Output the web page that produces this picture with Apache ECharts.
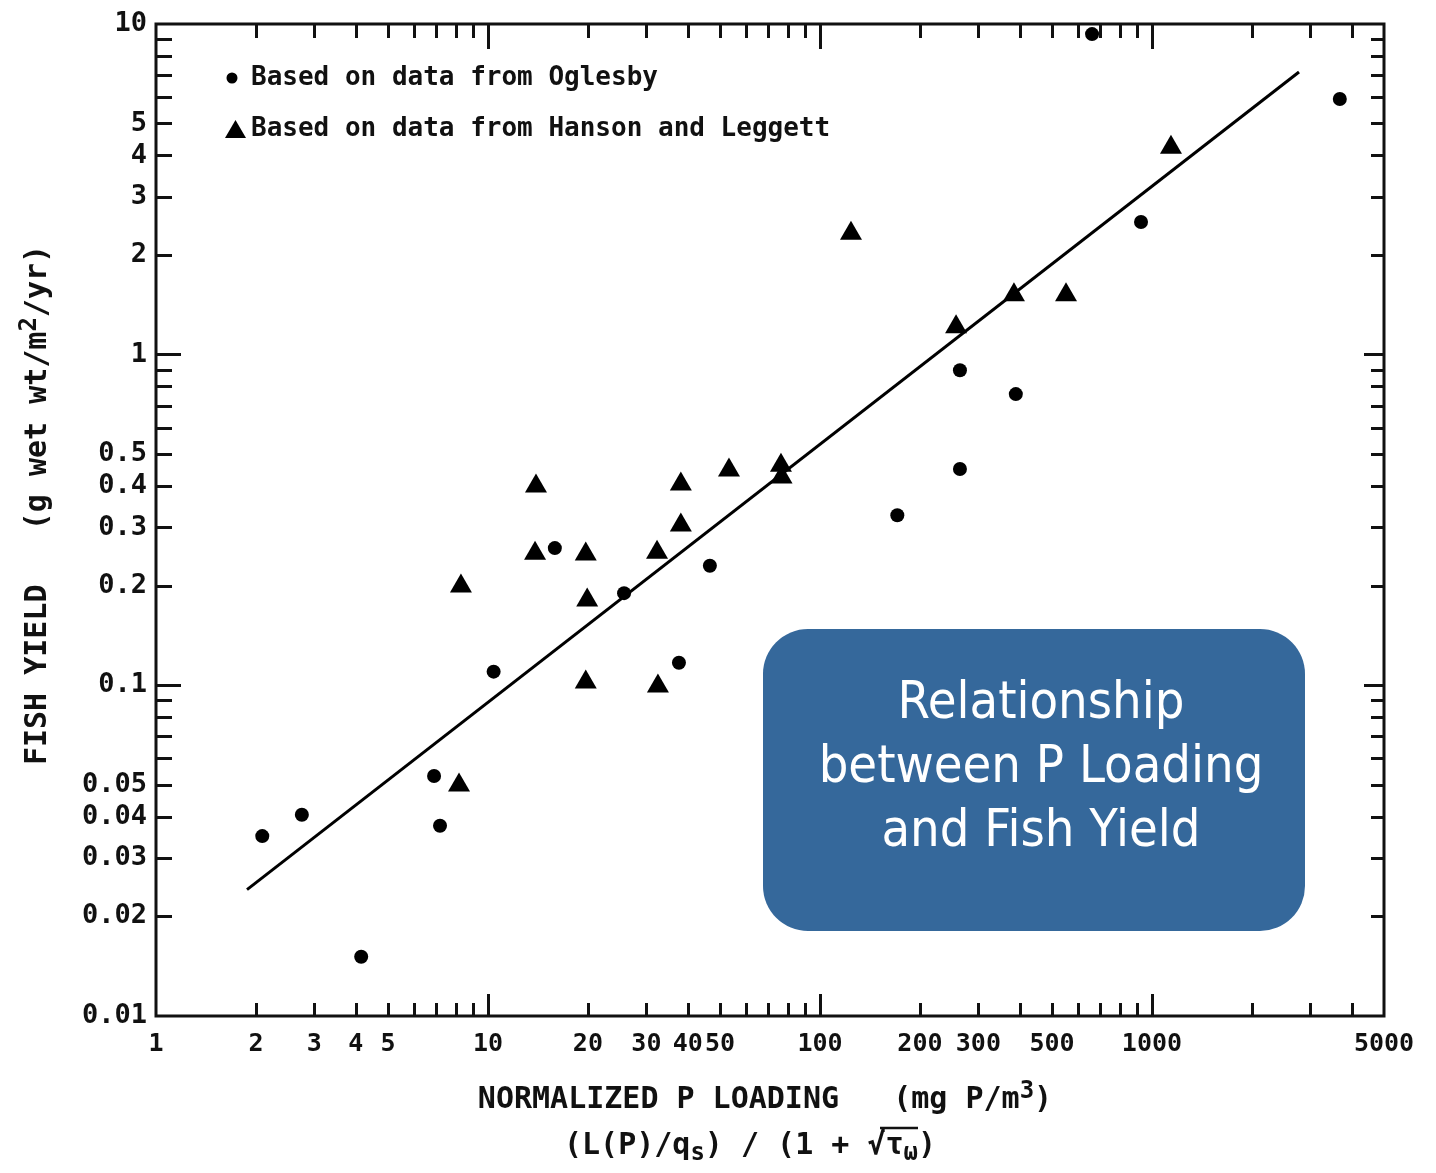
<!DOCTYPE html>
<html><head><meta charset="utf-8">
<script src="https://cdn.jsdelivr.net/npm/echarts@6/dist/echarts.min.js"></script>
<style>html,body{margin:0;padding:0;background:#fff}#c{width:1436px;height:1173px}</style>
</head><body><div id="c"></div>
<script>
// ---- data ----
const oglesbyX = [2.09, 2.75, 4.15, 6.88, 7.17, 10.4, 15.9, 25.7, 37.6, 46.6, 171, 264, 264, 389, 660, 927, 3680];
const oglesbyY = [0.035, 0.0406, 0.0151, 0.0532, 0.0376, 0.110, 0.260, 0.190, 0.117, 0.230, 0.327, 0.897, 0.451, 0.760, 9.32, 2.52, 5.93];
const hansonX = [8.29, 8.18, 13.95, 13.86, 19.7, 19.9, 19.7, 32.3, 32.5, 38.1, 38.1, 53.2, 76.3, 76.6, 124, 257, 384, 551, 1141];
const hansonY = [0.204, 0.0510, 0.409, 0.256, 0.255, 0.185, 0.1045, 0.258, 0.1016, 0.415, 0.312, 0.457, 0.473, 0.436, 2.38, 1.24, 1.55, 1.55, 4.33];
const fitX = [1.88, 2773];
const fitY = [0.0241, 7.16];
const xTickLabels = [1, 2, 3, 4, 5, 10, 20, 30, 40, 50, 100, 200, 300, 500, 1000, 5000];
const yTickLabels = [0.01, 0.02, 0.03, 0.04, 0.05, 0.1, 0.2, 0.3, 0.4, 0.5, 1, 2, 3, 4, 5, 10];
const xMinorTicks = [2, 3, 4, 5, 6, 7, 8, 9, 20, 30, 40, 50, 60, 70, 80, 90, 200, 300, 400, 500, 600, 700, 800, 900, 2000, 3000, 4000];
const xMajorTicks = [10, 100, 1000];
const yMinorTicks = [0.02, 0.03, 0.04, 0.05, 0.06, 0.07, 0.08, 0.09, 0.2, 0.3, 0.4, 0.5, 0.6, 0.7, 0.8, 0.9, 2, 3, 4, 5, 6, 7, 8, 9];
const yMajorTicks = [0.1, 1];
const seriesNames = ['Based on data from Oglesby', 'Based on data from Hanson and Leggett'];
const boxText = 'Relationship\nbetween P Loading\nand Fish Yield';

// ---- helpers ----
function hasFont(name) {
  const c = document.createElement('canvas').getContext('2d');
  const s = '0123456789abcdefg';
  c.font = '40px monospace'; const a = c.measureText(s).width;
  c.font = '40px "' + name + '", monospace'; const b = c.measureText(s).width;
  return Math.abs(a - b) > 0.5;
}
const narrow = hasFont('Liberation Sans Narrow');
const cond = hasFont('DejaVu Sans Condensed');
const xLabelFont = narrow ? { fontFamily: 'Liberation Sans Narrow', fontSize: 33 } : { fontFamily: 'DejaVu Sans Mono', fontSize: 25 };
const boxFont = cond ? { fontFamily: 'DejaVu Sans Condensed', fontSize: 52 } : { fontFamily: 'DejaVu Sans', fontSize: 47 };
const MONO = 'DejaVu Sans Mono';
const INK = '#111';
const XMAX = Math.log10(5000);

function fmt(v) { return String(+Math.pow(10, v).toPrecision(6)); }

function tickAxis(kind, position, ticks, len, labels, labelStyle) {
  const isX = kind === 'x';
  return {
    type: 'value', gridIndex: 0, position: position,
    min: isX ? 0 : -2, max: isX ? XMAX : 1,
    axisLine: { show: false, onZero: false },
    splitLine: { show: false },
    axisTick: { show: true, inside: true, length: len, customValues: ticks.map(v => Math.log10(v)), lineStyle: { color: INK, width: 3 } },
    axisLabel: labels ? Object.assign({ show: true, customValues: labels.map(v => Math.log10(v)), formatter: fmt, color: INK, fontWeight: 'bold' }, labelStyle) : { show: false },
    silent: true
  };
}

const chart = echarts.init(document.getElementById('c'), null, { renderer: 'canvas' });
const option = {
  animation: false,
  backgroundColor: '#fff',
  grid: { left: 156, right: 52, top: 24, bottom: 157, show: true, borderColor: INK, borderWidth: 3, backgroundColor: 'transparent' },
  legend: {
    orient: 'vertical', left: 220, top: 59, itemWidth: 21, itemHeight: 18, itemGap: 23,
    selectedMode: false,
    itemStyle: { borderWidth: 0, opacity: 1 },
    textStyle: { fontFamily: MONO, fontWeight: 'bold', fontSize: 26, lineHeight: 28, color: INK },
    data: [
      { name: seriesNames[0], icon: 'path://M0,0L0.01,0M21,18L21.01,18M12.5,9A5.5,5.5,0,1,1,1.5,9A5.5,5.5,0,1,1,12.5,9Z' },
      { name: seriesNames[1], icon: 'triangle' }
    ]
  },
  xAxis: [
    { type: 'log', logBase: 10, min: 1, max: 5000, position: 'bottom', gridIndex: 0,
      axisLine: { show: false, onZero: false }, axisTick: { show: false }, axisLabel: { show: false }, splitLine: { show: false } },
    tickAxis('x', 'bottom', xMinorTicks, 13, xTickLabels, Object.assign({ margin: 16 }, xLabelFont)),
    tickAxis('x', 'bottom', xMajorTicks, 22),
    tickAxis('x', 'top', xMinorTicks, 14),
    tickAxis('x', 'top', xMajorTicks, 25)
  ],
  yAxis: [
    { type: 'log', logBase: 10, min: 0.01, max: 10, position: 'left', gridIndex: 0,
      axisLine: { show: false, onZero: false }, axisTick: { show: false }, axisLabel: { show: false }, splitLine: { show: false } },
    tickAxis('y', 'left', yMinorTicks, 16, yTickLabels, { fontFamily: MONO, fontSize: 27, margin: 9 }),
    tickAxis('y', 'left', yMajorTicks, 25),
    tickAxis('y', 'right', yMinorTicks, 13),
    tickAxis('y', 'right', yMajorTicks, 20)
  ],
  series: [
    { type: 'line', xAxisIndex: 0, yAxisIndex: 0, data: fitX.map((x, i) => [x, fitY[i]]),
      showSymbol: false, symbol: 'none', lineStyle: { color: '#000', width: 3 }, silent: true, z: 2 },
    { name: seriesNames[0], type: 'scatter', xAxisIndex: 0, yAxisIndex: 0,
      data: oglesbyX.map((x, i) => [x, oglesbyY[i]]), symbol: 'circle', symbolSize: 14,
      itemStyle: { color: '#000', opacity: 1 }, z: 3 },
    { name: seriesNames[1], type: 'scatter', xAxisIndex: 0, yAxisIndex: 0,
      data: hansonX.map((x, i) => [x, hansonY[i]]), symbol: 'triangle', symbolSize: [22, 19],
      itemStyle: { color: '#000', opacity: 1 }, z: 3 }
  ],
  graphic: [
    { type: 'rect', shape: { x: 763, y: 629, width: 542, height: 302, r: 45 }, style: { fill: '#35689B' }, z: 10 },
    { type: 'text', x: 1041, y: 768, z: 11,
      style: { text: boxText, fill: '#fff', fontFamily: boxFont.fontFamily, fontSize: boxFont.fontSize, lineHeight: 64, align: 'center', verticalAlign: 'middle' } },
    { type: 'text', x: 38, y: 505, rotation: Math.PI / 2, z: 11,
      style: { text: 'FISH YIELD   (g wet wt/m{sup|2}/yr)', fill: INK, fontFamily: MONO, fontWeight: 'bold', fontSize: 30, lineHeight: 40,
        align: 'center', verticalAlign: 'middle',
        rich: { sup: { fontFamily: MONO, fontWeight: 'bold', fontSize: 24, verticalAlign: 'top', fill: INK } } } },
    { type: 'text', x: 765, y: 1100, z: 11,
      style: { text: 'NORMALIZED P LOADING   (mg P/m{sup|3})', fill: INK, fontFamily: MONO, fontWeight: 'bold', fontSize: 30, lineHeight: 40,
        align: 'center', verticalAlign: 'middle',
        rich: { sup: { fontFamily: MONO, fontWeight: 'bold', fontSize: 24, verticalAlign: 'top', fill: INK } } } },
    { type: 'text', x: 750, y: 1146, z: 11,
      style: { text: '(L(P)/q{sub|s}) / (1 + √τ{sub|ω})', fill: INK, fontFamily: MONO, fontWeight: 'bold', fontSize: 30, lineHeight: 40,
        align: 'center', verticalAlign: 'middle',
        rich: { sub: { fontFamily: MONO, fontWeight: 'bold', fontSize: 24, verticalAlign: 'bottom', fill: INK } } } },
    { type: 'line', shape: { x1: 880, y1: 1128, x2: 918, y2: 1128 }, style: { stroke: INK, lineWidth: 2.5 }, z: 11 }
  ]
};
chart.setOption(option);
</script>
</body></html>
